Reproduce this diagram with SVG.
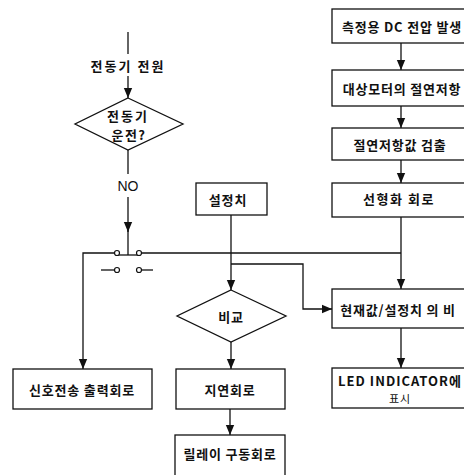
<svg xmlns="http://www.w3.org/2000/svg" width="464" height="475" viewBox="0 0 464 475">
<style>
.b{fill:#fff;stroke:#111;stroke-width:1.3}
.l{fill:none;stroke:#111;stroke-width:1.3}
.t{font-family:"Noto Sans CJK KR","Noto Sans",sans-serif;font-weight:bold;font-size:13px;fill:#111;text-anchor:middle;dominant-baseline:central;letter-spacing:0.8px}
.c{fill:#fff;stroke:#111;stroke-width:1.2}
</style>
<defs>
<marker id="a" markerWidth="10" markerHeight="13" refX="12" refY="5" orient="auto" markerUnits="userSpaceOnUse" viewBox="0 0 12 10">
<path d="M0,0 L12,5 L0,10 z" fill="#111"/>
</marker>
</defs>
<rect width="464" height="475" fill="#fff"/>
<g id="connectors">
<line class="l" x1="128" y1="32" x2="128" y2="54"/>
<line class="l" x1="128" y1="76" x2="128" y2="98" marker-end="url(#a)"/>
<line class="l" x1="128" y1="150" x2="128" y2="174"/>
<line class="l" x1="128" y1="197" x2="128" y2="232" marker-end="url(#a)"/>
<line class="l" x1="128" y1="230" x2="128" y2="255"/>
<line class="l" x1="117" y1="255" x2="139" y2="255"/>
<polyline class="l" points="114.5,253 83,253 83,369" marker-end="url(#a)"/>
<line class="l" x1="141.5" y1="253" x2="401" y2="253"/>
<line class="l" x1="101" y1="270" x2="114.5" y2="270"/>
<line class="l" x1="141.5" y1="270" x2="153" y2="270"/>
<line class="l" x1="231" y1="215" x2="231" y2="290" marker-end="url(#a)"/>
<polyline class="l" points="231,264 303,264 303,309 332,309" marker-end="url(#a)"/>
<line class="l" x1="231" y1="342" x2="231" y2="369" marker-end="url(#a)"/>
<line class="l" x1="230" y1="409" x2="230" y2="435" marker-end="url(#a)"/>
<line class="l" x1="401" y1="43" x2="401" y2="70" marker-end="url(#a)"/>
<line class="l" x1="401" y1="106" x2="401" y2="128" marker-end="url(#a)"/>
<line class="l" x1="401" y1="160" x2="401" y2="183" marker-end="url(#a)"/>
<line class="l" x1="401" y1="217" x2="401" y2="289" marker-end="url(#a)"/>
<line class="l" x1="401" y1="328" x2="401" y2="368" marker-end="url(#a)"/>
<circle class="c" cx="117" cy="253" r="2.5"/>
<circle class="c" cx="139" cy="253" r="2.5"/>
<circle class="c" cx="117" cy="270" r="2.5"/>
<circle class="c" cx="139" cy="270" r="2.5"/>
<text class="t" x="128" y="65" style="letter-spacing:2px">전동기 전원</text>
<text class="t" x="128" y="186" style="font-family:'Liberation Sans',sans-serif;font-weight:normal;font-size:14px;letter-spacing:0">NO</text>
</g>
<g id="n1"><polygon class="b" points="128,98 183,124 128,150 75,124"/><text class="t" x="128" y="115" style="letter-spacing:2px">전동기</text><text class="t" x="129" y="134" style="letter-spacing:1.5px">운전?</text></g>
<g id="n2"><rect class="b" x="332" y="9" width="140" height="34"/><text class="t" x="402" y="26">측정용 DC 전압 발생</text></g>
<g id="n3"><rect class="b" x="332" y="70" width="140" height="36"/><text class="t" x="402" y="88">대상모터의 절연저항</text></g>
<g id="n4"><rect class="b" x="332" y="128" width="140" height="32"/><text class="t" x="400" y="144">절연저항값 검출</text></g>
<g id="n5"><rect class="b" x="332" y="183" width="140" height="34"/><text class="t" x="399" y="198" style="letter-spacing:1.5px">선형화 회로</text></g>
<g id="n6"><rect class="b" x="196" y="183" width="71" height="32"/><text class="t" x="228" y="199">설정치</text></g>
<g id="n7"><polygon class="b" points="231,290 286,316 231,342 177,316"/><text class="t" x="231" y="316">비교</text></g>
<g id="n8"><rect class="b" x="332" y="289" width="140" height="39"/><text class="t" x="398" y="309">현재값/설정치 의 비</text></g>
<g id="n9"><rect class="b" x="332" y="368" width="140" height="40"/><text class="t" x="400" y="380" style="letter-spacing:1px">LED INDICATOR에</text><text class="t" x="400" y="398" style="font-size:11px;font-weight:normal">표시</text></g>
<g id="n10"><rect class="b" x="13" y="369" width="139" height="40"/><text class="t" x="82" y="389">신호전송 출력회로</text></g>
<g id="n11"><rect class="b" x="176" y="369" width="109" height="40"/><text class="t" x="230" y="389">지연회로</text></g>
<g id="n12"><rect class="b" x="175" y="435" width="110" height="50"/><text class="t" x="230" y="453">릴레이 구동회로</text></g>
</svg>
